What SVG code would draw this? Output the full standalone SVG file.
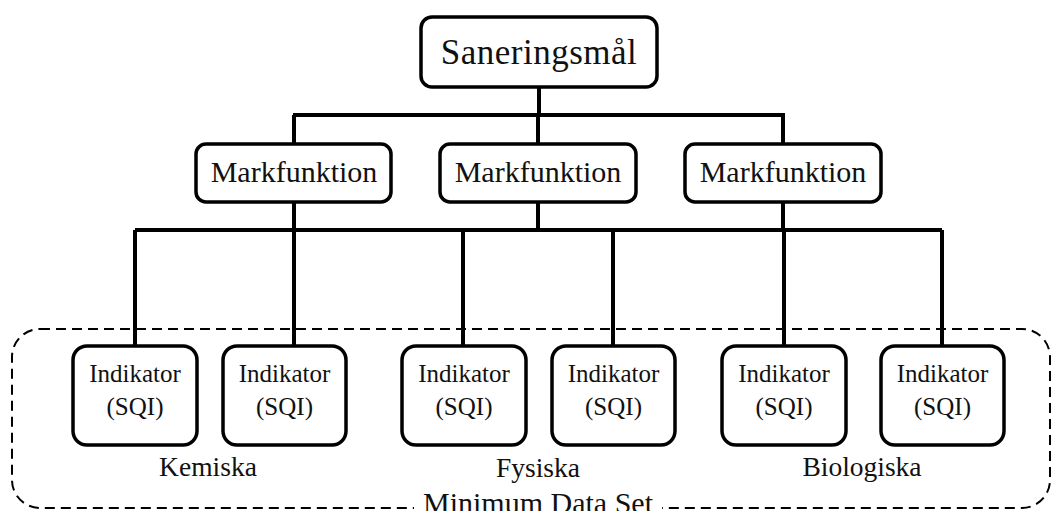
<svg xmlns="http://www.w3.org/2000/svg" width="1055" height="511" viewBox="0 0 1055 511">
<style>
.box{fill:#fff;stroke:#000;stroke-width:3.5}
.t{font-family:"Liberation Serif","Times New Roman",serif;fill:#111;text-anchor:middle}
.c{stroke:#000;stroke-width:4;fill:none}
</style>
<rect width="1055" height="511" fill="#fff"/>
<g id="mds">
<rect x="12" y="329" width="1038" height="179" rx="28" fill="none" stroke="#000" stroke-width="2" stroke-dasharray="10 6"/>
<rect x="414" y="494" width="248" height="17" fill="#fff"/>
<text class="t" x="538" y="513" font-size="30">Minimum Data Set</text>
</g>
<g id="connectors">
<path class="c" d="M539 87V115M293 115H785M294 115V144M538 115V144M783 115V144"/>
<path class="c" d="M294 202V230M538 202V230M783 202V230M135 230H942M135 230V346M294 230V346M463 230V346M613 230V346M784 230V346M942 230V346"/>
</g>
<g id="root"><rect class="box" x="421" y="17" width="236" height="70" rx="11"/><text class="t" x="539" y="64" font-size="35" letter-spacing="0.5">Saneringsmål</text></g>
<g id="mf1"><rect class="box" x="196" y="144" width="195" height="58" rx="10"/><text class="t" x="294" y="182" font-size="30">Markfunktion</text></g>
<g id="mf2"><rect class="box" x="440" y="144" width="196" height="58" rx="10"/><text class="t" x="538" y="182" font-size="30">Markfunktion</text></g>
<g id="mf3"><rect class="box" x="685" y="144" width="196" height="58" rx="10"/><text class="t" x="783" y="182" font-size="30">Markfunktion</text></g>
<g id="i1"><rect class="box" x="73" y="346" width="124" height="99" rx="14"/><text class="t" x="135" y="382" font-size="25">Indikator</text><text class="t" x="135" y="415" font-size="25">(SQI)</text></g>
<g id="i2"><rect class="box" x="223" y="346" width="123" height="99" rx="14"/><text class="t" x="284.5" y="382" font-size="25">Indikator</text><text class="t" x="284.5" y="415" font-size="25">(SQI)</text></g>
<g id="i3"><rect class="box" x="402" y="346" width="124" height="99" rx="14"/><text class="t" x="464" y="382" font-size="25">Indikator</text><text class="t" x="464" y="415" font-size="25">(SQI)</text></g>
<g id="i4"><rect class="box" x="552" y="346" width="123" height="99" rx="14"/><text class="t" x="613.5" y="382" font-size="25">Indikator</text><text class="t" x="613.5" y="415" font-size="25">(SQI)</text></g>
<g id="i5"><rect class="box" x="722" y="346" width="124" height="99" rx="14"/><text class="t" x="784" y="382" font-size="25">Indikator</text><text class="t" x="784" y="415" font-size="25">(SQI)</text></g>
<g id="i6"><rect class="box" x="881" y="346" width="123" height="99" rx="14"/><text class="t" x="942.5" y="382" font-size="25">Indikator</text><text class="t" x="942.5" y="415" font-size="25">(SQI)</text></g>
<g id="labels">
<text class="t" x="208" y="476" font-size="27.5">Kemiska</text>
<text class="t" x="538" y="477" font-size="27.5">Fysiska</text>
<text class="t" x="862" y="476" font-size="27.5">Biologiska</text>
</g>
</svg>
